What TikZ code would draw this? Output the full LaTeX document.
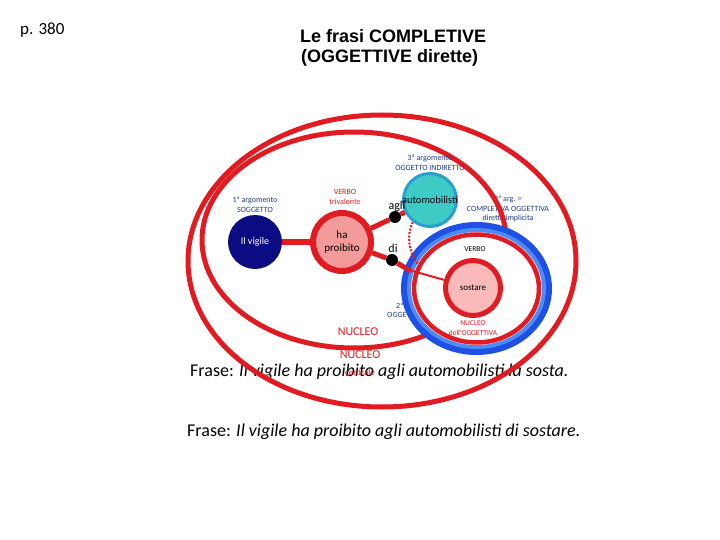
\documentclass[tikz,border=0pt]{standalone}
\usepackage{fontspec}
\setmainfont{Carlito}
\newfontfamily\titlef{Liberation Sans}
\pgfdeclarelayer{back}
\pgfdeclarelayer{mid}
\pgfsetlayers{back,mid,main}
\definecolor{rd}{HTML}{E01B22}
\definecolor{pinkA}{HTML}{F39A9A}
\definecolor{pinkB}{HTML}{FBBABA}
\definecolor{navy}{HTML}{0C0C82}
\definecolor{lblue}{HTML}{1F3C88}
\definecolor{turq}{HTML}{3FCBC5}
\definecolor{turqB}{HTML}{2A9FCF}
\definecolor{blueD}{HTML}{1E50E6}
\definecolor{blueL}{HTML}{4D8BF7}
\begin{document}
\begin{tikzpicture}[x=1pt,y=-1pt,
  small/.style={font=\fontsize{8}{9.5}\selectfont, align=center, inner sep=0},
  navylbl/.style={small, text=lblue},
  redlbl/.style={small, text=rd},
  ring/.style={draw=rd, line width=5pt},
  thick link/.style={draw=rd, line width=5pt},
  dot/.style={circle, fill=black, minimum size=12pt, inner sep=0},
  sentence/.style={font=\fontsize{18}{20}\selectfont, anchor=west, inner sep=0}]
\useasboundingbox (0,0) rectangle (720,540);

% ---- titles
\node[anchor=west, inner sep=0, font=\fontsize{17}{19}\selectfont] (pg) at (20,30) {p. 380};
\node[anchor=west, inner sep=0, font=\titlef\bfseries\fontsize{18}{21}\selectfont] (t1) at (300,36) {Le frasi COMPLETIVE};
\node[anchor=west, inner sep=0, font=\titlef\bfseries\fontsize{18}{21}\selectfont] (t2) at (301,58) {(OGGETTIVE dirette)};

\begin{pgfonlayer}{back}
  % texts partly hidden by the ellipses / blue circle
  \node[navylbl] (arg2b) at (508,209) {2ª arg. =\\COMPLETIVA OGGETTIVA\\diretta implicita};
  \node[navylbl, anchor=north west] (arg2a) at (396,303) {2ª argomento};
  \node[navylbl, anchor=north west] (arg2c) at (387,312) {OGGETTO DIRETTO};
  \node[sentence] (fr1) at (190,372) {Frase: \textit{Il vigile ha proibito agli automobilisti la sosta.}};
  \node[redlbl, font=\fontsize{9}{10}\selectfont] (centr) at (360,372) {centrale};
  % ellipses
  \draw[ring] (382,261) ellipse [x radius=194pt, y radius=146pt];
  \draw[ring] (354,240) ellipse [x radius=152pt, y radius=108pt];
  % blue ring of the completive
  \fill[blueD] (476.5,288.5) ellipse [x radius=75.5pt, y radius=66.5pt];
  \fill[blueL] (476.5,288.5) ellipse [x radius=69.5pt, y radius=60.5pt];
  \fill[white] (476.5,288.5) ellipse [x radius=65.5pt, y radius=56.5pt];
  \draw[rd, line width=4.5pt] (476.5,288.5) ellipse [x radius=62.5pt, y radius=54pt];
\end{pgfonlayer}

% ---- nodes
\node[circle, fill=navy, minimum size=54pt, inner sep=0, text=white,
      font=\fontsize{10}{12}\selectfont] (vig) at (255,242) {Il vigile};
\node[circle, draw=rd, line width=6pt, fill=pinkA, minimum size=58pt, inner sep=0,
      align=center, font=\fontsize{11}{13}\selectfont] (ha) at (342,242) {ha\\proibito};
\node[circle, draw=turqB, line width=3pt, fill=turq, minimum size=53pt, inner sep=0] (auto) at (430,200) {};
\node[inner sep=0, font=\fontsize{10.5}{12}\selectfont] (autot) at (auto) {automobilisti};
\node[circle, draw=rd, line width=5pt, fill=pinkB, minimum size=55pt, inner sep=0] (sos) at (473,288) {};
\node[inner sep=0, font=\fontsize{9}{11}\selectfont] (sost) at (sos) {sostare};
\node[dot] (dA) at (395,217) {};
\node[dot] (dD) at (392,260) {};
\node[circle, fill=rd, minimum size=6pt, inner sep=0] (dR) at (409,270) {};
\coordinate (dotend) at (418,264);

% ---- connectors
\begin{pgfonlayer}{mid}
  \draw[draw=rd, line width=6pt] (vig) -- (ha);
  \draw[thick link] (ha) -- (dA) -- (auto);
  \draw[thick link] (ha) -- (dD) -- (dR);
  \draw[draw=rd, line width=2pt] (dR) -- (sos);
  \draw[draw=rd, line width=2pt, dash pattern=on 2pt off 1.5pt]
     (auto.232) .. controls (406,236) and (409,252) .. (dotend);
\end{pgfonlayer}

% ---- labels
\node[font=\fontsize{12}{14}\selectfont, inner sep=0] (agli) at (397,206) {agli};
\node[font=\fontsize{12}{14}\selectfont, inner sep=0] (di) at (393,248) {di};
\node[navylbl] (arg1) at (255,205) {1ª argomento\\SOGGETTO};
\node[redlbl] (verb3) at (345,197) {VERBO\\trivalente};
\node[navylbl] (arg3) at (430,163) {3ª argomento\\OGGETTO INDIRETTO};
\node[small, font=\fontsize{7.5}{9}\selectfont] (verbo) at (475,249) {VERBO};
\node[redlbl, font=\fontsize{7.5}{9.5}\selectfont] (nucO) at (473,328) {NUCLEO\\dell’OGGETTIVA};
\node[inner sep=0, text=rd, font=\fontsize{12}{14}\selectfont] (nuc1) at (358,332) {NUCLEO};
\node[inner sep=0, text=rd, font=\fontsize{12}{14}\selectfont] (nuc2) at (360,355) {NUCLEO};

\node[sentence] (fr2) at (187,432) {Frase: \textit{Il vigile ha proibito agli automobilisti di sostare.}};
\end{tikzpicture}
\end{document}
